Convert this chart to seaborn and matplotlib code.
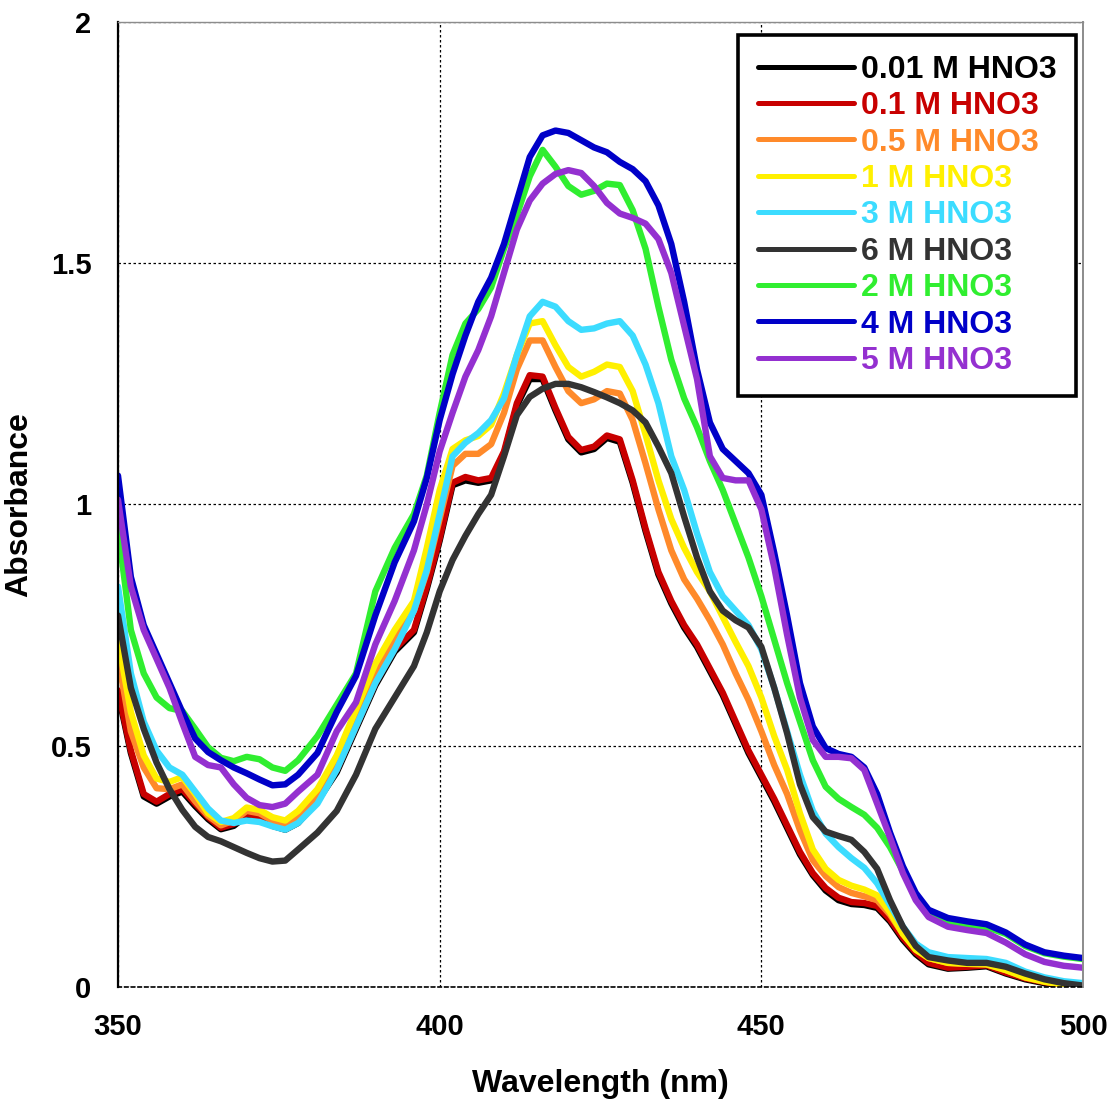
import numpy as np
import pandas as pd
import matplotlib
matplotlib.use("Agg")
import matplotlib.pyplot as plt
import seaborn as sns

wavelength = [350, 352, 354, 356, 358, 360, 362, 364, 366, 368, 370, 372, 374, 376, 378,
              381, 384, 387, 390, 393, 396, 398, 400, 402, 404, 406, 408, 410, 412, 414,
              416, 418, 420, 422, 424, 426, 428, 430, 432, 434, 436, 438, 440, 442, 444,
              446, 448, 450, 452, 454, 456, 458, 460, 462, 464, 466, 468, 470, 472, 474,
              476, 479, 482, 485, 488, 491, 494, 497, 500]

m0_1 = [0.615, 0.49, 0.40, 0.384, 0.40, 0.41, 0.38, 0.352, 0.33, 0.338, 0.36, 0.352, 0.338, 0.33, 0.345,
        0.39, 0.45, 0.54, 0.63, 0.70, 0.74, 0.83, 0.93, 1.045, 1.057, 1.05, 1.055, 1.11, 1.21, 1.268,
        1.265, 1.20, 1.14, 1.113, 1.12, 1.143, 1.135, 1.05, 0.95, 0.86, 0.80, 0.75, 0.71, 0.66, 0.61,
        0.55, 0.49, 0.44, 0.39, 0.335, 0.28, 0.236, 0.205, 0.185, 0.176, 0.174, 0.168, 0.14, 0.102, 0.072,
        0.05, 0.04, 0.042, 0.045, 0.03, 0.018, 0.01, 0.004, 0.0]

m0_01 = [0.61, 0.485, 0.395, 0.38, 0.395, 0.405, 0.375, 0.348, 0.327, 0.334, 0.355, 0.348, 0.334, 0.326, 0.34,
         0.385, 0.445, 0.535, 0.625, 0.695, 0.735, 0.825, 0.925, 1.04, 1.05, 1.045, 1.05, 1.105, 1.205, 1.26,
         1.26, 1.195, 1.135, 1.108, 1.115, 1.138, 1.13, 1.045, 0.945, 0.855, 0.795, 0.745, 0.705, 0.655, 0.605,
         0.545, 0.485, 0.435, 0.385, 0.33, 0.275, 0.232, 0.2, 0.18, 0.172, 0.17, 0.164, 0.136, 0.098, 0.068,
         0.047, 0.038, 0.04, 0.043, 0.028, 0.016, 0.008, 0.003, 0.0]

m0_5 = [0.684, 0.53, 0.455, 0.412, 0.41, 0.42, 0.385, 0.355, 0.335, 0.345, 0.365, 0.36, 0.345, 0.335, 0.35,
        0.395, 0.46, 0.55, 0.645, 0.72, 0.78, 0.86, 0.97, 1.08, 1.105, 1.105, 1.125, 1.19, 1.28, 1.34,
        1.34, 1.285, 1.235, 1.21, 1.218, 1.235, 1.23, 1.175, 1.085, 0.99, 0.905, 0.845, 0.805, 0.76, 0.71,
        0.65, 0.595, 0.53, 0.46, 0.40, 0.325, 0.263, 0.23, 0.207, 0.195, 0.188, 0.18, 0.15, 0.11, 0.08,
        0.06, 0.05, 0.048, 0.047, 0.035, 0.02, 0.011, 0.005, 0.002]

m1 = [0.72, 0.57, 0.48, 0.432, 0.425, 0.435, 0.40, 0.36, 0.342, 0.35, 0.372, 0.367, 0.352, 0.345, 0.365,
      0.41, 0.48, 0.575, 0.67, 0.74, 0.80, 0.91, 1.03, 1.115, 1.133, 1.142, 1.165, 1.23, 1.31, 1.375,
      1.38, 1.33, 1.285, 1.265, 1.275, 1.29, 1.285, 1.235, 1.145, 1.05, 0.97, 0.91, 0.86, 0.82, 0.767,
      0.715, 0.665, 0.60, 0.52, 0.45, 0.36, 0.285, 0.245, 0.222, 0.21, 0.202, 0.19, 0.155, 0.11, 0.077,
      0.06, 0.05, 0.048, 0.047, 0.035, 0.02, 0.011, 0.005, 0.002]

m3 = [0.83, 0.65, 0.55, 0.49, 0.455, 0.44, 0.405, 0.37, 0.345, 0.34, 0.345, 0.342, 0.333, 0.326, 0.34,
      0.38, 0.45, 0.54, 0.63, 0.70, 0.78, 0.864, 0.98, 1.10, 1.128, 1.148, 1.175, 1.22, 1.31, 1.39,
      1.42, 1.41, 1.38, 1.362, 1.365, 1.375, 1.38, 1.35, 1.29, 1.21, 1.10, 1.03, 0.94, 0.86, 0.81,
      0.78, 0.75, 0.70, 0.62, 0.53, 0.44, 0.365, 0.318, 0.29, 0.267, 0.247, 0.215, 0.17, 0.125, 0.09,
      0.072, 0.062, 0.06, 0.058, 0.05, 0.032, 0.02, 0.012, 0.008]

m6 = [0.77, 0.62, 0.535, 0.465, 0.41, 0.367, 0.332, 0.311, 0.302, 0.29, 0.278, 0.267, 0.26, 0.262, 0.285,
      0.32, 0.365, 0.44, 0.535, 0.60, 0.665, 0.735, 0.82, 0.885, 0.935, 0.98, 1.02, 1.10, 1.185, 1.223,
      1.24, 1.25, 1.25, 1.243, 1.233, 1.222, 1.21, 1.195, 1.17, 1.12, 1.065, 0.975, 0.89, 0.82, 0.78,
      0.76, 0.745, 0.705, 0.62, 0.526, 0.42, 0.352, 0.322, 0.313, 0.305, 0.28, 0.245, 0.18, 0.125, 0.085,
      0.062, 0.055, 0.05, 0.05, 0.042, 0.028, 0.016, 0.008, 0.003]

m2 = [0.95, 0.74, 0.65, 0.60, 0.578, 0.572, 0.535, 0.497, 0.475, 0.468, 0.477, 0.472, 0.455, 0.448, 0.47,
      0.52, 0.585, 0.65, 0.82, 0.91, 0.98, 1.06, 1.19, 1.31, 1.375, 1.405, 1.45, 1.53, 1.60, 1.68,
      1.735, 1.70, 1.66, 1.642, 1.65, 1.665, 1.662, 1.61, 1.53, 1.41, 1.30, 1.22, 1.16, 1.09, 1.03,
      0.96, 0.89, 0.81, 0.72, 0.63, 0.55, 0.47, 0.415, 0.39, 0.373, 0.357, 0.33, 0.29, 0.24, 0.19,
      0.155, 0.135, 0.128, 0.124, 0.11, 0.085, 0.07, 0.063, 0.058]

m4 = [1.06, 0.85, 0.75, 0.69, 0.63, 0.57, 0.515, 0.487, 0.47, 0.455, 0.443, 0.43, 0.418, 0.42, 0.44,
      0.485, 0.57, 0.645, 0.77, 0.88, 0.965, 1.055, 1.175, 1.27, 1.35, 1.42, 1.47, 1.54, 1.63, 1.72,
      1.765, 1.775, 1.77, 1.755, 1.74, 1.73, 1.71, 1.695, 1.67, 1.62, 1.54, 1.42, 1.28, 1.17, 1.115,
      1.09, 1.065, 1.02, 0.90, 0.77, 0.63, 0.54, 0.495, 0.483, 0.477, 0.455, 0.40, 0.32, 0.25, 0.195,
      0.16, 0.143, 0.136, 0.13, 0.113, 0.088, 0.072, 0.065, 0.06]

m5 = [1.01, 0.83, 0.74, 0.68, 0.62, 0.547, 0.477, 0.46, 0.455, 0.42, 0.392, 0.377, 0.373, 0.38, 0.405,
      0.44, 0.53, 0.59, 0.71, 0.80, 0.905, 1.0, 1.11, 1.19, 1.265, 1.32, 1.39, 1.48, 1.57, 1.63,
      1.665, 1.685, 1.693, 1.687, 1.66, 1.625, 1.603, 1.594, 1.582, 1.55, 1.48, 1.37, 1.26, 1.10, 1.055,
      1.05, 1.05, 0.99, 0.87, 0.73, 0.60, 0.512, 0.477, 0.477, 0.474, 0.45, 0.38, 0.31, 0.236, 0.18,
      0.145, 0.125, 0.118, 0.112, 0.092, 0.068, 0.052, 0.044, 0.04]

labels = ["0.01 M HNO3", "0.1 M HNO3", "0.5 M HNO3", "1 M HNO3", "3 M HNO3",
          "6 M HNO3", "2 M HNO3", "4 M HNO3", "5 M HNO3"]
colors = ["#000000", "#c80000", "#ff8a2a", "#fff000", "#3cdcff",
          "#333333", "#30ee30", "#0000c8", "#9430d0"]
x_ticks = [350, 400, 450, 500]
y_ticks = [0, 0.5, 1, 1.5, 2]

series = [m0_01, m0_1, m0_5, m1, m3, m6, m2, m4, m5]
frames = []
for lab, vals in zip(labels, series):
    frames.append(pd.DataFrame({"Wavelength": wavelength, "Absorbance": vals, "Sample": lab}))
df = pd.concat(frames, ignore_index=True)

sns.set_style("white")
plt.rcParams["font.family"] = ["Liberation Sans", "DejaVu Sans"]
plt.rcParams["font.weight"] = "bold"

fig = plt.figure(figsize=(11.1, 11.1), dpi=100)
ax = fig.add_axes([0.1063, 0.1108, 0.8694, 0.8694])

sns.lineplot(data=df, x="Wavelength", y="Absorbance", hue="Sample",
             hue_order=labels, palette=dict(zip(labels, colors)),
             estimator=None, sort=False, linewidth=4.6, ax=ax,
             solid_joinstyle="round", solid_capstyle="round")

ax.set_xlim(350, 500)
ax.set_ylim(0, 2)
ax.set_xticks(x_ticks)
ax.set_yticks(y_ticks)
ax.set_xticklabels([str(v) for v in x_ticks])
ax.set_yticklabels(["0", "0.5", "1", "1.5", "2"])
ax.tick_params(axis="x", length=0, labelsize=21, pad=19)
ax.tick_params(axis="y", length=0, labelsize=21, pad=19)
for t in ax.get_xticklabels() + ax.get_yticklabels():
    t.set_fontweight("bold")
    t.set_color("black")

ax.grid(True, color="black", linestyle=(0, (2, 2)), linewidth=0.9)
ax.set_axisbelow(True)

ax.spines["left"].set_color("black")
ax.spines["left"].set_linewidth(1.6)
ax.spines["bottom"].set_color("black")
ax.spines["bottom"].set_linewidth(1.2)
ax.spines["bottom"].set_linestyle((0, (2, 2)))
ax.spines["right"].set_color("#8c8c8c")
ax.spines["right"].set_linewidth(1.4)
ax.spines["top"].set_color("#8c8c8c")
ax.spines["top"].set_linewidth(1.0)

ax.set_xlabel("Wavelength (nm)", fontsize=23, fontweight="bold", labelpad=20, color="black")
ax.set_ylabel("Absorbance", fontsize=23, fontweight="bold", labelpad=12, color="black")

handles, labs = ax.get_legend_handles_labels()
leg = ax.legend(handles, labs, loc="upper right", bbox_to_anchor=(0.9927, 0.9865),
                borderaxespad=0, handlelength=3.0, handletextpad=0.22,
                labelspacing=0.2, borderpad=0.62, frameon=True, fancybox=False,
                framealpha=1, edgecolor="black", prop={"weight": "bold", "size": 23})
leg.get_frame().set_linewidth(2.6)
for line, text in zip(leg.get_lines(), leg.get_texts()):
    line.set_linewidth(3.6)
    text.set_color(line.get_color())

fig.savefig("out.png", dpi=100, facecolor="white")
